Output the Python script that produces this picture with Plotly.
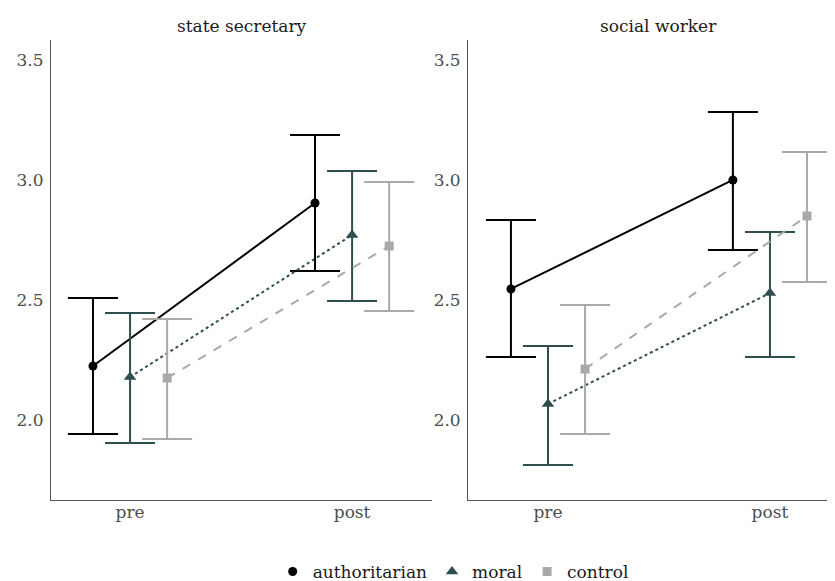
import plotly.graph_objects as go

conditions = ["pre", "post"]
groups = ["authoritarian", "moral", "control"]
panels = ["state secretary", "social worker"]

# means, upper and lower CI bounds [panel][group] -> [pre, post]
means = {
    "state secretary": {
        "authoritarian": [2.225, 2.904],
        "moral": [2.179, 2.771],
        "control": [2.175, 2.725],
    },
    "social worker": {
        "authoritarian": [2.546, 3.000],
        "moral": [2.067, 2.529],
        "control": [2.2125, 2.850],
    },
}
upper = {
    "state secretary": {
        "authoritarian": [2.508, 3.1875],
        "moral": [2.446, 3.0375],
        "control": [2.421, 2.992],
    },
    "social worker": {
        "authoritarian": [2.833, 3.283],
        "moral": [2.308, 2.783],
        "control": [2.479, 3.117],
    },
}
lower = {
    "state secretary": {
        "authoritarian": [1.942, 2.621],
        "moral": [1.904, 2.496],
        "control": [1.921, 2.454],
    },
    "social worker": {
        "authoritarian": [2.2625, 2.708],
        "moral": [1.8125, 2.2625],
        "control": [1.942, 2.575],
    },
}

colors = {"authoritarian": "#000000", "moral": "#2F4F4F", "control": "#A9A9A9"}
symbols = {"authoritarian": "circle", "moral": "triangle-up", "control": "square"}
msizes = {"authoritarian": 9, "moral": 11, "control": 9}
dashes = {"authoritarian": "solid", "moral": "dot", "control": "dash"}
dodge = {"authoritarian": -0.167, "moral": 0.0, "control": 0.167}

FONT = "DejaVu Serif"
fig = go.Figure()

for pi, panel in enumerate(panels):
    xa = "x" if pi == 0 else "x2"
    ya = "y" if pi == 0 else "y2"
    for g in groups:
        xs = [i + 1 + dodge[g] for i in range(len(conditions))]
        m = means[panel][g]
        up = [u - v for u, v in zip(upper[panel][g], m)]
        dn = [v - l for l, v in zip(lower[panel][g], m)]
        fig.add_trace(go.Scatter(
            x=xs, y=m, xaxis=xa, yaxis=ya, mode="lines+markers",
            line=dict(color=colors[g], width=2, dash=dashes[g]),
            marker=dict(symbol=symbols[g], size=msizes[g], color=colors[g]),
            error_y=dict(type="data", symmetric=False, array=up, arrayminus=dn,
                         color=colors[g], thickness=2, width=25),
            showlegend=False, hoverinfo="skip",
        ))

for g in groups:
    fig.add_trace(go.Scatter(
        x=[None], y=[None], mode="markers", name=g,
        marker=dict(symbol=symbols[g], size=msizes[g], color=colors[g]),
        showlegend=True,
    ))

axis_common = dict(showgrid=False, zeroline=False, showline=True,
                   linecolor="#555555", linewidth=1, ticks="", automargin=False,
                   tickfont=dict(family=FONT, size=17, color="#4d4d4d"))

fig.update_layout(
    width=835, height=581,
    margin=dict(l=43, r=8, t=32, b=89, autoexpand=False),
    paper_bgcolor="white", plot_bgcolor="white",
    font=dict(family=FONT, size=16, color="#1a1a1a"),
    xaxis=dict(domain=[0, 0.486], range=[0.644, 2.36], tickvals=[1, 2],
               ticktext=conditions, ticklabelstandoff=-3, **axis_common),
    xaxis2=dict(domain=[0.532, 1], range=[0.64, 2.293], tickvals=[1, 2],
                ticktext=conditions, ticklabelstandoff=-3, **axis_common),
    yaxis=dict(range=[1.667, 3.583], tickvals=[2.0, 2.5, 3.0, 3.5],
               ticktext=["2.0", "2.5", "3.0", "3.5"], anchor="x",
               ticklabelstandoff=3, **axis_common),
    yaxis2=dict(range=[1.667, 3.583], tickvals=[2.0, 2.5, 3.0, 3.5],
                ticktext=["2.0", "2.5", "3.0", "3.5"], anchor="x2",
                ticklabelstandoff=3, **axis_common),
    legend=dict(orientation="h", x=0.513, xanchor="center", y=-0.1565, yanchor="middle",
                font=dict(family=FONT, size=17, color="#1a1a1a"), itemwidth=30),
    annotations=[
        dict(text=panels[0], x=0.243, y=1.0, xref="paper", yref="paper",
             xanchor="center", yanchor="bottom", yshift=2, showarrow=False,
             font=dict(family=FONT, size=17, color="#1a1a1a")),
        dict(text=panels[1], x=0.7755, y=1.0, xref="paper", yref="paper",
             xanchor="center", yanchor="bottom", yshift=2, showarrow=False,
             font=dict(family=FONT, size=17, color="#1a1a1a")),
    ],
)

fig.write_html("out.html")
